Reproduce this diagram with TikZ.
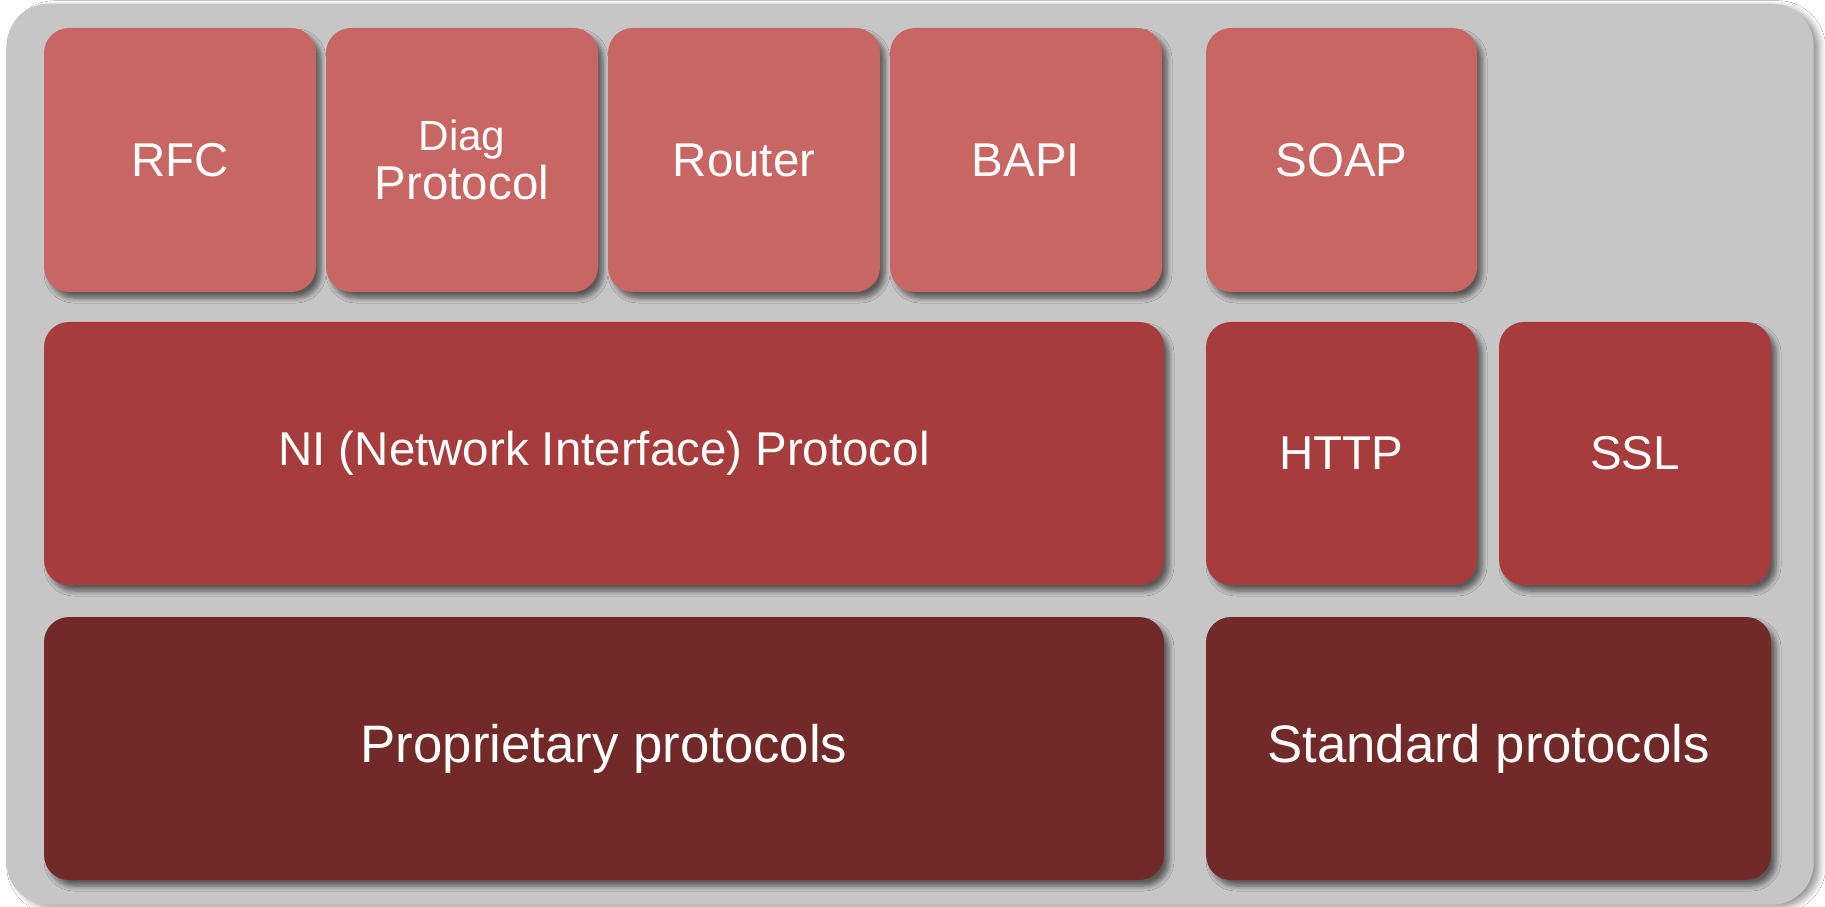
\documentclass[tikz,border=0pt]{standalone}
\usepackage{fontspec}
\setmainfont{Liberation Sans}
\usepackage{tikz}
\usetikzlibrary{positioning, shadows.blur}
\usepackage{xcolor}
\definecolor{panelgray}{HTML}{C6C6C6}
\definecolor{apptop}{HTML}{C86664}
\definecolor{transmid}{HTML}{A63D3C}
\definecolor{basebot}{HTML}{722A29}

\begin{document}
\begin{tikzpicture}[node distance=0.1cm]
    \tikzstyle{layer}=[rectangle,rounded corners=0.25cm,outer sep=0pt,inner sep=0pt,
        text=white,align=center,
        blur shadow={shadow xshift=0.05cm,shadow yshift=-0.06cm,shadow blur radius=0.05cm,
            shadow blur steps=6,shadow opacity=55}]
    \tikzstyle{app}=[layer,fill=apptop,minimum width=2.72cm,minimum height=2.64cm,
        font=\fontsize{13.5}{14}\selectfont]
    \tikzstyle{trans}=[layer,fill=transmid,minimum height=2.63cm,
        font=\fontsize{13.5}{14}\selectfont]
    \tikzstyle{base}=[layer,fill=basebot,minimum height=2.63cm,
        font=\fontsize{15}{16}\selectfont]

    \useasboundingbox[fill=white] (0,0) rectangle (18.25,-9.07);
    \node[rectangle,rounded corners=0.42cm,fill=panelgray,minimum width=18.07cm,minimum height=9.01cm,
        anchor=north west,
        blur shadow={shadow xshift=0.06cm,shadow yshift=-0.03cm,shadow blur radius=0.06cm,
            shadow blur steps=6,shadow opacity=40}]
        (panel) at (0.06,-0.03) {};

    % top row
    \node[app,anchor=north west] (rfc) at (0.44,-0.28) {RFC};
    \node[app,right=of rfc] (diag) {\fontsize{12}{12.6}\selectfont Diag\\Protocol};
    \node[app,right=of diag] (router) {Router};
    \node[app,right=of router] (bapi) {BAPI};
    \node[app,right=0.44cm of bapi,minimum width=2.71cm] (soap) {SOAP};

    % middle row
    \node[trans,minimum width=11.2cm,below right=0.3cm and 0cm of rfc.south west] (ni) {NI (Network Interface) Protocol};
    \node[trans,minimum width=2.71cm,below=0.3cm of soap] (http) {HTTP};
    \node[trans,minimum width=2.72cm,right=0.22cm of http] (ssl) {SSL};

    % bottom row
    \node[base,minimum width=11.2cm,below right=0.32cm and 0cm of ni.south west] (prop) {Proprietary protocols};
    \node[base,minimum width=5.65cm,below right=0.32cm and 0cm of http.south west] (std) {Standard protocols};
\end{tikzpicture}
\end{document}
